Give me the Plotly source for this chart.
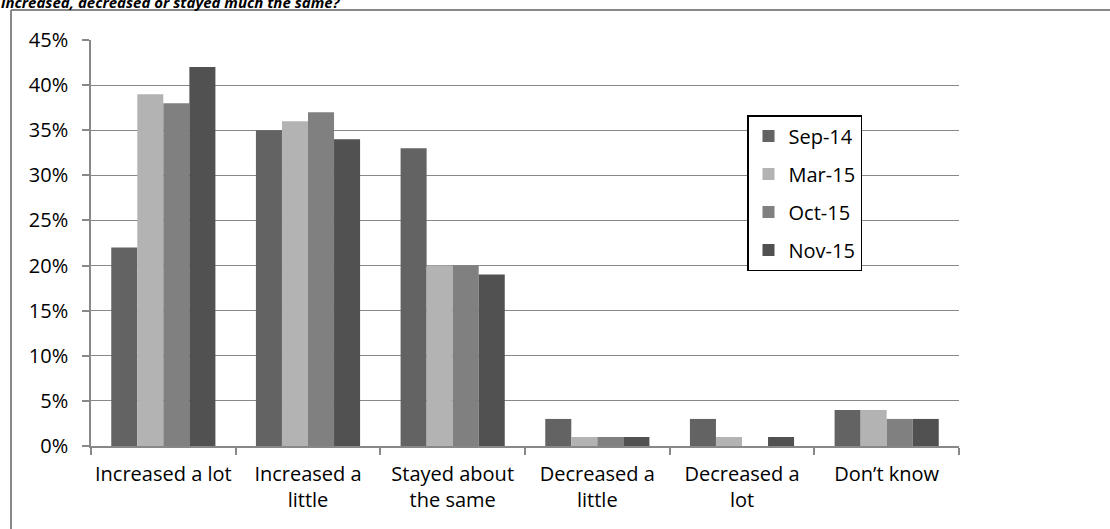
import plotly.graph_objects as go

categories = ["Increased a lot", "Increased a<br>little", "Stayed about<br>the same",
              "Decreased a<br>little", "Decreased a<br>lot", "Don\u2019t know"]
series_names = ["Sep-14", "Mar-15", "Oct-15", "Nov-15"]
sep14 = [22, 35, 33, 3, 3, 4]
mar15 = [39, 36, 20, 1, 1, 4]
oct15 = [38, 37, 20, 1, 0, 3]
nov15 = [42, 34, 19, 1, 1, 3]
colors = ["#636363", "#b3b3b3", "#808080", "#515151"]
y_ticks = [0, 5, 10, 15, 20, 25, 30, 35, 40, 45]

W, H = 1110, 529
L, R, T, B = 91, 151, 40, 83
FONT = "Open Sans"
FS = 20

fig = go.Figure()
for name, vals, col in zip(series_names, [sep14, mar15, oct15, nov15], colors):
    fig.add_trace(go.Bar(x=categories, y=vals, name=name, marker_color=col,
                         marker_line_width=0, legendgroup=name))

pw, ph = W - L - R, H - T - B
def px_x(p):
    return (p - L) / pw
def px_y(p):
    return (H - B - p) / ph

fig.update_layout(
    width=W, height=H,
    margin=dict(l=L, r=R, t=T, b=B, autoexpand=False),
    paper_bgcolor="white", plot_bgcolor="white",
    font=dict(family=FONT, size=FS, color="#000000"),
    barmode="group", bargap=0.28, bargroupgap=0,
    showlegend=True,
    legend=dict(x=px_x(747), y=px_y(115), xanchor="left", yanchor="top",
                bordercolor="#000000", borderwidth=1.5, bgcolor="white",
                font=dict(size=FS), tracegroupgap=9,
                itemwidth=30),
    xaxis=dict(showline=True, linecolor="#888888", linewidth=1.5,
               ticks="outside", tickson="boundaries", ticklen=7,
               tickcolor="#888888", tickwidth=1.5, showgrid=False,
               tickangle=0, automargin=False, tickfont=dict(size=FS),
               ticklabelstandoff=9),
    yaxis=dict(range=[0, 45], tickvals=y_ticks,
               ticktext=[f"{v}%" for v in y_ticks],
               showline=True, linecolor="#888888", linewidth=1.5,
               ticks="outside", ticklen=7, tickcolor="#888888", tickwidth=1.5,
               showgrid=True, gridcolor="#888888", gridwidth=1.2,
               zeroline=False, automargin=False,
               tickfont=dict(size=FS), ticklabelstandoff=10),
    shapes=[
        dict(type="line", xref="paper", yref="paper",
             x0=px_x(11), x1=px_x(W), y0=px_y(10), y1=px_y(10),
             line=dict(color="#888888", width=2)),
        dict(type="line", xref="paper", yref="paper",
             x0=px_x(11), x1=px_x(11), y0=px_y(10), y1=px_y(H),
             line=dict(color="#888888", width=2)),
    ],
    annotations=[
        dict(text="<b><i>increased, decreased or stayed much the same?</i></b>",
             xref="paper", yref="paper", x=px_x(0), y=px_y(13),
             xanchor="left", yanchor="bottom", showarrow=False,
             font=dict(size=15, color="#000000"), borderpad=0),
    ],
)

fig.write_html("out.html")
